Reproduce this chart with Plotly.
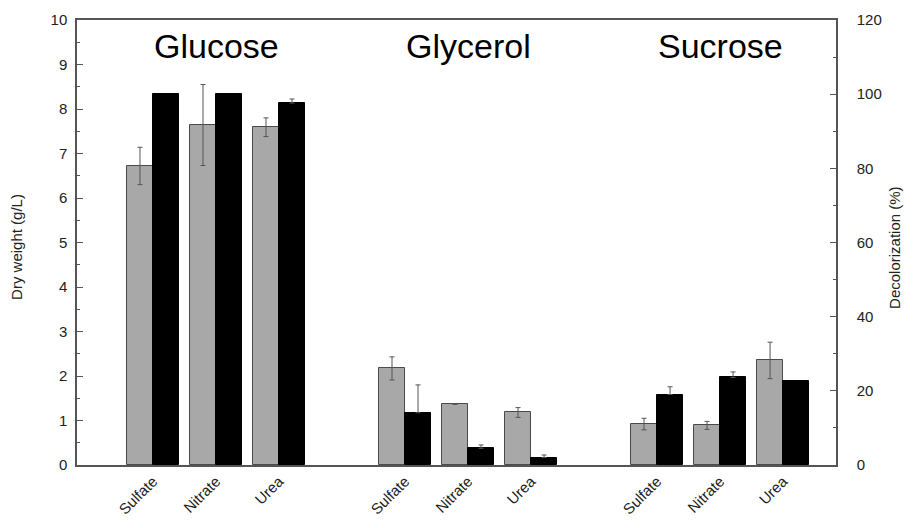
import plotly.graph_objects as go

# ---- data ----
positions = [0, 1, 2, 4, 5, 6, 8, 9, 10]
tick_labels = ["Sulfate", "Nitrate", "Urea"] * 3
groups = ["Glucose", "Glycerol", "Sucrose"]
group_centers = [1, 5, 9]

dry_weight = [6.72, 7.64, 7.59, 2.17, 1.37, 1.18, 0.92, 0.89, 2.35]
dry_weight_err = [0.42, 0.91, 0.21, 0.26, 0.01, 0.11, 0.13, 0.09, 0.41]

decolorization = [100.0, 100.0, 97.6, 14.1, 4.5, 2.0, 19.0, 23.6, 22.6]
decolorization_err = [0.0, 0.0, 1.1, 7.5, 0.9, 0.7, 2.1, 1.5, 0.0]

# ---- figure ----
# page body has an 8px margin; compensate so plot area lands where the reference has it
FIG_W, FIG_H = 897, 520
L, T = 69, 12
PLOT_W, PLOT_H = 759, 445

W = 0.413

fig = go.Figure()
fig.add_trace(go.Bar(
    x=positions, y=dry_weight, width=W, offset=-W,
    marker=dict(color="#a8a8a8", line=dict(color="#4a4a4a", width=1)),
    error_y=dict(type="data", array=dry_weight_err, visible=True,
                 color="#555555", thickness=1, width=2.5),
    yaxis="y", showlegend=False,
))

# black bars: those with an error bar and those without
idx_err = [i for i, e in enumerate(decolorization_err) if e > 0]
idx_noerr = [i for i, e in enumerate(decolorization_err) if e <= 0]
fig.add_trace(go.Bar(
    x=[positions[i] for i in idx_err], y=[decolorization[i] for i in idx_err],
    width=W, offset=0,
    marker=dict(color="#000000", line=dict(color="#000000", width=1)),
    error_y=dict(type="data", array=[decolorization_err[i] for i in idx_err],
                 arrayminus=[0] * len(idx_err), visible=True,
                 color="#555555", thickness=1, width=2.5),
    yaxis="y2", showlegend=False,
))
fig.add_trace(go.Bar(
    x=[positions[i] for i in idx_noerr], y=[decolorization[i] for i in idx_noerr],
    width=W, offset=0,
    marker=dict(color="#000000", line=dict(color="#000000", width=1)),
    yaxis="y2", showlegend=False,
))

font_family = "Liberation Sans, Arial, sans-serif"

annotations = []
for g, c in zip(groups, group_centers):
    annotations.append(dict(x=c, y=0.942, xref="x", yref="paper", text=g,
                            showarrow=False, font=dict(size=34, color="#000"),
                            xanchor="center", yanchor="middle"))
annotations.append(dict(x=(9 - L) / PLOT_W, y=0.49, xref="paper", yref="paper",
                        text="Dry weight (g/L)", textangle=-90, showarrow=False,
                        font=dict(size=15, color="#222"), xanchor="center", yanchor="middle"))
annotations.append(dict(x=(887 - L) / PLOT_W, y=0.49, xref="paper", yref="paper",
                        text="Decolorization (%)", textangle=-90, showarrow=False,
                        font=dict(size=15, color="#222"), xanchor="center", yanchor="middle"))

fig.update_layout(
    width=FIG_W, height=FIG_H,
    margin=dict(l=L, r=FIG_W - L - PLOT_W, t=T, b=FIG_H - T - PLOT_H, pad=0),
    paper_bgcolor="white", plot_bgcolor="white",
    font=dict(family=font_family, size=15, color="#222"),
    bargap=0, barmode="overlay",
    xaxis=dict(
        range=[-1.206, 10.84], tickmode="array", tickvals=positions,
        ticktext=tick_labels, tickangle=-45, ticks="",
        showline=True, linecolor="#555", linewidth=1.5, mirror=True,
        showgrid=False, zeroline=False, tickfont=dict(size=15, color="#222"),
        automargin=False,
    ),
    yaxis=dict(
        range=[0, 10], dtick=1, ticks="inside", ticklen=6, tickcolor="#555",
        showline=True, linecolor="#555", linewidth=1.5,
        showgrid=False, zeroline=False, ticklabelstandoff=5,
        minor=dict(ticks="inside", dtick=0.5, ticklen=3, tickcolor="#555"),
        tickfont=dict(size=15, color="#222"), automargin=False,
    ),
    yaxis2=dict(
        range=[0, 120], dtick=20, ticks="inside", ticklen=6, tickcolor="#555",
        overlaying="y", side="right",
        showline=True, linecolor="#555", linewidth=1.5,
        showgrid=False, zeroline=False, ticklabelstandoff=16,
        minor=dict(ticks="inside", dtick=10, ticklen=3, tickcolor="#555"),
        tickfont=dict(size=15, color="#222"), automargin=False,
    ),
    annotations=annotations,
)

fig.write_html("out.html")
